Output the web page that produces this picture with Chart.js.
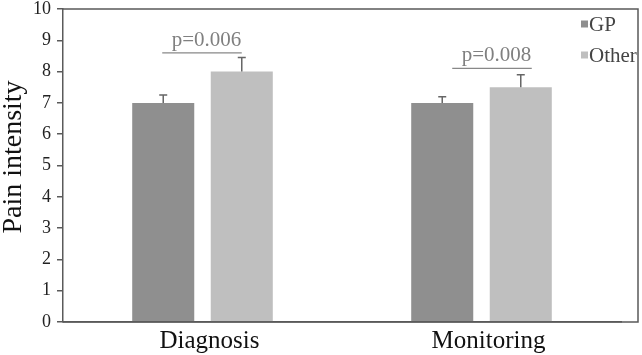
<!DOCTYPE html>
<html><head><meta charset="utf-8">
<script src="https://cdn.jsdelivr.net/npm/chart.js@4.4.1/dist/chart.umd.min.js"></script>
<style>html,body{margin:0;padding:0;background:#fff}#wrap{width:642px;height:355px}</style>
</head><body><div id="wrap"><canvas id="c" width="642" height="355"></canvas></div>
<script>
const categories = ['Diagnosis', 'Monitoring'];
const seriesNames = ['GP', 'Other'];
const gpValues = [7.0, 7.0];
const otherValues = [8.0, 7.5];
const gpErrors = [0.25, 0.2];
const otherErrors = [0.45, 0.4];
const pLabels = ['p=0.006', 'p=0.008'];
const pLineLevels = [8.6, 8.1];
const yTicks = [0,1,2,3,4,5,6,7,8,9,10];
const yTitle = 'Pain intensity';

const FONT = "'Liberation Serif', 'Times New Roman', serif";
const errs = [gpErrors, otherErrors];

const framePlugin = {
  id: 'frame',
  afterDatasetsDraw(chart, args, opts) {
    const ctx = chart.ctx, a = chart.chartArea;
    const y = chart.scales.y;
    ctx.save();
    // error bars
    ctx.strokeStyle = '#666'; ctx.lineWidth = 1.5;
    chart.data.datasets.forEach((ds, di) => {
      const meta = chart.getDatasetMeta(di);
      meta.data.forEach((bar, i) => {
        const top = y.getPixelForValue(ds.data[i] + errs[di][i]);
        const base = y.getPixelForValue(ds.data[i]);
        ctx.beginPath();
        ctx.moveTo(bar.x, base); ctx.lineTo(bar.x, top);
        ctx.moveTo(bar.x - 4, top); ctx.lineTo(bar.x + 4, top);
        ctx.stroke();
      });
    });
    // significance lines
    const m0 = chart.getDatasetMeta(0), m1 = chart.getDatasetMeta(1);
    ctx.strokeStyle = '#888'; ctx.lineWidth = 1.2;
    ctx.fillStyle = '#808080';
    ctx.font = '21px ' + FONT;
    ctx.textAlign = 'center'; ctx.textBaseline = 'alphabetic';
    pLabels.forEach((lab, i) => {
      const sh = opts.shifts[i];
      const x0 = m0.data[i].x + sh, x1 = m1.data[i].x + sh;
      const yy = y.getPixelForValue(pLineLevels[i]);
      ctx.beginPath(); ctx.moveTo(x0 - 1, yy); ctx.lineTo(x1, yy); ctx.stroke();
      ctx.fillText(lab, (x0 + x1) / 2 + 4, yy - 7);
    });
    // frame: top and right
    const right = chart.width - 4;
    ctx.strokeStyle = '#5a5a5a'; ctx.lineWidth = 1.5;
    ctx.beginPath();
    ctx.moveTo(a.left, a.top); ctx.lineTo(right, a.top); ctx.lineTo(right, a.bottom); ctx.lineTo(a.left, a.bottom);
    ctx.stroke();
    // legend
    ctx.font = '21px ' + FONT; ctx.textAlign = 'left'; ctx.textBaseline = 'middle';
    chart.data.datasets.forEach((ds, di) => {
      const cy = a.top + 15 + di * 31;
      ctx.fillStyle = ds.backgroundColor;
      ctx.fillRect(a.right - 40, cy - 3.5, 7, 7);
      ctx.fillStyle = '#444';
      ctx.fillText(ds.label, a.right - 32, cy + 1);
    });
    // y title
    ctx.translate(14, 157);
    ctx.rotate(-Math.PI / 2);
    ctx.font = '28px ' + FONT; ctx.textAlign = 'center'; ctx.textBaseline = 'middle';
    ctx.fillStyle = '#111';
    ctx.fillText(yTitle, 0, 0);
    ctx.restore();
  }
};

new Chart(document.getElementById('c'), {
  type: 'bar',
  data: {
    labels: categories,
    datasets: [
      { label: seriesNames[0], data: gpValues, backgroundColor: '#8f8f8f', categoryPercentage: 0.563, barPercentage: 0.79 },
      { label: seriesNames[1], data: otherValues, backgroundColor: '#bfbfbf', categoryPercentage: 0.563, barPercentage: 0.79 }
    ]
  },
  options: {
    responsive: false, animation: false,
    layout: { padding: { top: 9, right: 21, left: 0, bottom: 0 } },
    plugins: { legend: { display: false }, tooltip: { enabled: false }, frame: { shifts: [0, 11] } },
    scales: {
      x: {
        grid: { display: false, drawTicks: false },
        border: { display: true, color: '#5a5a5a', width: 1.5 },
        ticks: { color: '#111', font: { family: FONT, size: 25 }, padding: 4, labelOffset: 7 },
        afterFit(s) { s.height = 33; s.paddingLeft = 0; s.paddingRight = 0; }
      },
      y: {
        min: 0, max: 10,
        afterBuildTicks(s) { s.ticks = yTicks.map(v => ({ value: v })); },
        grid: { display: true, drawOnChartArea: false, drawTicks: true, tickLength: 6, color: '#5a5a5a', lineWidth: 1.5 },
        border: { display: true, color: '#5a5a5a', width: 1.5 },
        ticks: { color: '#222', font: { family: FONT, size: 18 }, padding: 6 },
        afterFit(s) { s.width = 63; s.paddingTop = 0; s.paddingBottom = 0; }
      }
    }
  },
  plugins: [framePlugin]
});
</script></body></html>
